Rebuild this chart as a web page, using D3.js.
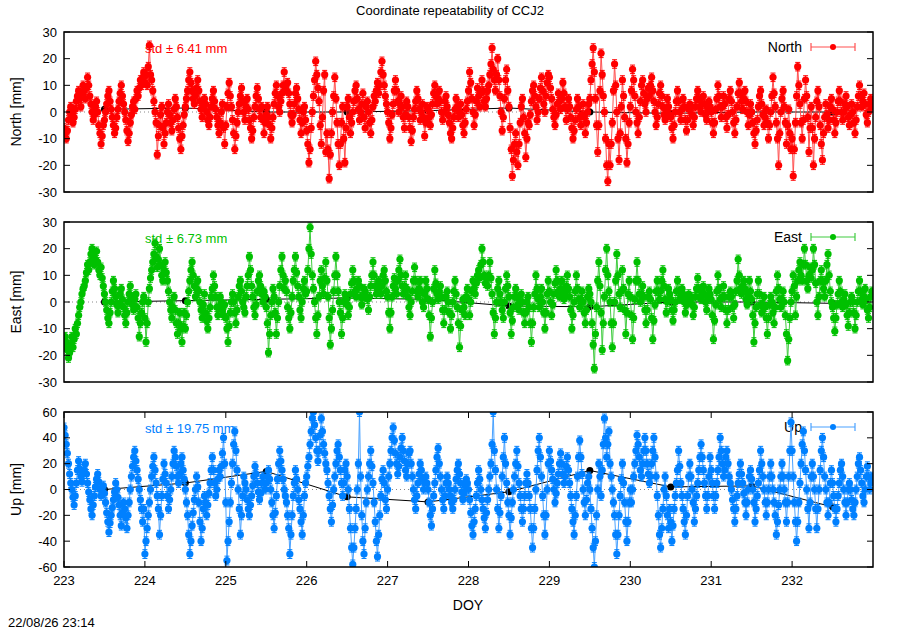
<!DOCTYPE html>
<html>
<head>
<meta charset="utf-8">
<script src="https://d3js.org/d3.v7.min.js"></script>
<style>
body { margin: 0; background: #fff; }
text { font-family: "Liberation Sans", Arial, Helvetica, sans-serif; }
</style>
</head>
<body>
<script>

var startDoy = 223;
var spanDays = 10;

var northVals = [
 -6, -8, -10, -7, -3, 0, 2, -1, -4, -2, 1, 4, 6, 8, 5, 2, 7, 10,
 8, 5, 9, 13, 10, 6, 3, 0, -3, -1, 2, 4, 0, -5, -8, -12, -9, -5,
 -3, 0, 3, 6, 8, 4, 1, -2, -5, -8, -6, -2, 1, 4, 7, 10, 6, 3,
 0, -3, -7, -11, -8, -4, -1, 2, 4, 1, 5, 8, 6, 9, 12, 10, 13, 15,
 11, 14, 10, 17, 25, 14, 12, 8, 4, 0, -4, -16, -9, -5, -1, 2, -6, -12,
 -8, -4, 0, 3, -1, -4, -7, -3, 1, 5, 2, -2, -6, -10, -14, -9, -5, -1,
 2, 5, 8, 12, 15, 11, 8, 5, 3, 6, 9, 12, 8, 4, 1, -2, 2, 5,
 3, 0, -3, -5, -2, 2, 5, 8, 4, 1, -2, -5, -8, -4, 0, 3, -6, -12,
 -5, 2, 7, 11, 6, 2, -3, -8, -14, -9, -4, 0, 3, 6, 9, 4, 0, -3,
 2, 5, 1, -3, -6, -10, -7, -2, 2, 6, 9, 5, 1, -2, 2, -3, -8, -4,
 -1, 2, -2, -5, -10, -6, -2, 3, 7, 10, 6, 2, 0, 4, 7, 10, 15, 9,
 8, 11, 7, 3, -1, -4, -1, 3, 7, 9, 5, 1, -3, -8, -4, 0, 2, -3,
 -7, -12, -19, -14, -6, 0, 6, 12, 19, 14, 9, 4, -5, -12, -2, 8, 14, -15,
 -8, -14, -25, -16, -8, 0, 6, 13, 5, -4, -12, -20, -12, -4, 2, -10, -19, -6,
 2, 5, -2, -8, -4, 0, 4, 8, 10, 5, 1, -3, 0, 3, 7, -2, -6, 2,
 4, 0, -4, -8, -3, 2, 6, 4, 8, 11, 7, 10, 15, 19, 14, 10, 6, 3,
 0, -4, -10, -6, -1, 3, 8, 12, 8, 4, 0, 3, 6, 2, -2, -6, -1, 4,
 2, -2, -6, -11, -7, -2, 1, 4, 8, 5, 1, -3, 0, 3, -2, -9, -4, 2,
 1, -2, -5, -1, 3, 7, 10, 6, 3, 5, 8, 4, 0, -3, 0, 4, 6, 2,
 -1, -4, -8, -10, -6, -2, 1, 5, 2, -2, 0, 3, -1, -5, -8, -4, 1, 4,
 8, 15, 11, 5, 0, -5, -1, 4, 9, 6, 2, 7, 12, 8, 4, 2, 5, 8,
 10, 14, 18, 24, 16, 12, 8, 14, 20, 12, 6, 0, -7, -2, 5, 12, 16, 8,
 2, -6, -14, -24, -18, -12, -8, -15, -20, -12, -4, 2, 5, -2, -8, -17, -10, -4,
 -5, -1, 4, 8, 10, 6, 2, -3, 0, 5, 9, 13, 8, 3, 0, 6, 11, 14,
 13, 9, 5, 1, -2, -5, -1, 3, 7, 4, 1, 5, 11, 7, 2, -3, 1, 5,
 2, -2, -6, -10, -7, -3, 1, 5, 2, -2, -5, -1, 3, -2, -8, -4, 0, 3,
 5, 12, 18, 24, 15, 5, -5, -15, -5, 8, 22, 14, 6, 0, -10, -20, -26, -12,
 -20, -12, -4, 8, 18, 10, 0, -10, -18, -8, 2, 12, 6, -2, -10, -19, -12, -4,
 2, 8, 16, 12, 6, 0, -4, -8, -2, 4, 10, 12, 7, 3, 0, 5, 9, 6,
 10, 13, 8, 4, 0, -5, -2, 3, 7, 10, 6, 2, -1, -3, 1, 5, 2, -1,
 -2, -6, -10, -5, 0, 4, 8, 4, 0, -3, 1, 5, 2, -3, -7, -3, 1, 3,
 2, -1, -5, -2, 2, 5, 8, 5, 2, 0, 3, 6, 3, -1, -3, 1, 4, 2,
 0, -4, -8, -4, 1, 5, 10, 6, 2, -2, 2, 6, 3, -2, -6, -1, 5, 8,
 4, 0, -4, -8, -3, 2, 7, 11, 7, 4, 1, 5, 8, 4, 0, -5, -1, 3,
 0, -4, -8, -12, -7, -3, 2, 6, 8, 3, -1, -5, -2, 1, -4, -10, -5, 0,
 6, 13, 7, 2, -4, -10, -20, -8, 0, 5, 8, 2, -4, -12, -5, 1, -8, -14,
 -10, -24, -14, -4, 6, 17, 10, 3, -4, -10, -3, 5, 12, 6, -2, -15, -6, 2,
 -6, -20, -10, -2, 4, 8, 2, -5, -12, -18, -8, -2, 3, -1, -6, -3, 2, 5,
 1, -3, -8, -4, 0, 4, 8, 4, 0, -3, 0, 3, 6, 2, -2, -5, -1, 3,
 0, -4, -8, -3, 2, 6, 10, 6, 2, 4, 7, 3, -1, -4, 0, 3, 5, 2
];

var eastVals = [
 -16, -13, -15, -18, -21, -19, -16, -13, -17, -14, -10, -12, -8, -5, -2, 0, 3, 5,
 6, 8, 11, 14, 12, 15, 18, 20, 17, 14, 16, 19, 15, 12, 10, 13, 9, 6,
 3, 0, -3, -6, -8, -4, 0, 4, 8, 5, 2, -1, -4, -1, 3, 5, 1, -2,
 -5, -8, -4, 0, 3, 6, 2, -1, -3, 1, 3, -2, -6, -13, -8, -4, 0, 2,
 -6, -15, -8, 0, 5, 9, 12, 15, 18, 22, 17, 13, 16, 20, 14, 10, 8, 12,
 15, 11, 8, 4, 0, -3, -6, -2, 2, -3, -8, -12, -8, -4, -10, -15, -9, -4,
 -10, -5, 0, 4, 8, 12, 15, 10, 6, 2, 5, 8, 4, 0, -3, -6, -1, 3,
 -4, -7, -10, -6, -2, 2, 5, 10, 6, 2, -2, -5, -2, 2, 0, -3, -5, -1,
 -6, -10, -15, -9, -4, 0, 3, 0, -4, -8, -3, 2, 6, 8, 4, 0, -2, -4,
 2, 6, 10, 17, 12, 6, 2, -2, -5, -1, 4, 8, 10, 6, 3, 0, 4, 2,
 -2, -8, -19, -12, -5, 0, 5, 2, -4, -12, -6, 0, 6, 12, 17, 10, 5, 8,
 4, -2, -6, -10, -4, 2, 8, 12, 17, 11, 6, 2, -3, -6, 0, 5, 8, 3,
 4, 12, 20, 28, 18, 10, 5, 0, -6, -12, -5, 2, 8, 12, 6, 3, 9, 15,
 8, 2, -6, -16, -10, -3, 4, 10, 17, 10, 4, 0, -4, -12, -6, 0, 3, 1,
 -1, -5, -2, 3, 7, 12, 8, 4, 2, 5, 8, 6, 2, -1, 2, 5, 4, 2,
 1, -3, 2, 6, 10, 15, 10, 6, 3, 5, 8, 6, 3, 6, 10, 12, 8, 4,
 2, -4, -10, -4, 2, 6, 9, 5, 3, 8, 12, 16, 10, 6, 3, 6, 10, 5,
 2, -2, -5, 0, 4, 8, 13, 8, 4, 2, 5, 8, 4, 0, -2, 3, 8, 5,
 1, -5, -13, -6, 0, 5, 12, 7, 3, 1, 4, 6, 2, -3, -8, -3, 2, 4,
 0, -4, -10, -5, 0, 4, 8, 3, -2, -8, -17, -9, -3, 1, -2, -5, 2, 5,
 1, -5, 0, 4, 8, 5, 3, 7, 10, 12, 9, 14, 20, 15, 10, 7, 9, 6,
 10, 15, 9, 3, -4, -12, -6, 0, 5, 8, 3, 0, -3, -6, 0, 5, 10, 6,
 2, -4, -12, -7, -2, 2, 5, 2, -1, -3, 0, 3, 0, -4, -8, -4, 0, 2,
 -2, -8, -15, -8, -2, 3, 10, 5, 1, -2, 2, 5, 0, -4, -10, -4, 3, 8,
 4, 0, -5, -1, 3, 7, 12, 8, 4, 2, 5, 8, 4, 1, 3, 6, 10, 5,
 2, -3, -10, -5, 0, 4, 10, 5, 1, -2, 1, 4, 0, -4, -8, -3, 2, 5,
 3, 0, -8, -16, -25, -12, -2, 8, 15, 6, -4, -18, -8, 2, 12, 20, 10, 4,
 0, -8, -17, -8, 0, 8, 18, 10, 3, -2, 4, 12, 5, -3, -12, -4, 3, 8,
 2, -5, -14, -6, 1, 8, 15, 8, 3, 0, 3, 6, 2, -3, -8, -3, 2, 4,
 1, -6, -14, -7, -1, 4, 8, 4, 1, 4, 8, 12, 6, 1, -4, 0, 5, 3,
 1, -3, -7, -3, 0, 4, 8, 4, 1, 2, 5, 3, 0, -4, -1, 2, 3, 1,
 2, -1, -5, -2, 2, 5, 9, 5, 2, 1, 4, 6, 3, 0, -3, 1, 5, 3,
 1, -5, -14, -7, -1, 4, 10, 5, 1, -2, 2, 6, 2, -3, -8, -3, 2, 4,
 2, -2, -6, -1, 4, 8, 16, 10, 5, 3, 6, 8, 5, 1, -1, 3, 8, 4,
 1, -5, -15, -8, -2, 3, 8, 3, -1, -4, -1, 2, -2, -6, -12, -6, -1, 2,
 0, -4, -8, -2, 4, 10, 5, 1, -2, 1, 4, 0, -5, -12, -22, -14, -6, 0,
 4, 10, 6, -5, 2, 8, 12, 15, 10, 8, 14, 20, 14, 8, 5, 10, 13, 9,
 12, 20, 14, 7, 0, -5, 2, 8, 12, 8, 5, 2, 8, 14, 18, 10, 4, 0,
 -2, -6, -11, -6, -1, 3, 8, 4, 0, -2, 1, 3, -1, -5, -9, -4, 0, 2,
 0, -4, -10, -5, 0, 4, 8, 4, 1, -1, 2, 5, 1, -3, -6, -2, 2, 4
];

var upVals = [
 48, 42, 35, 28, 20, 12, 5, 0, -6, -12, -5, 5, 15, 22, 16, 10, 6, 12,
 15, 20, 12, 5, -2, -8, -15, -20, -12, -5, 2, 8, 12, 6, 0, -5, -2, 3,
 -3, -10, -18, -25, -33, -26, -20, -14, -8, -2, 5, 0, -6, -12, -20, -28, -18, -10,
 -15, -22, -30, -20, -10, 0, 10, 18, 25, 30, 22, 15, 8, 0, -8, -15, -25, -15,
 -50, -40, -30, -20, -10, 0, 10, 18, 25, 15, 5, -5, -15, -35, -20, -5, 8, 20,
 12, 5, -5, -15, -8, 0, 10, 20, 30, 25, 18, 10, 5, 12, 20, 25, 15, 8,
 0, -10, -20, -35, -50, -40, -28, -18, -8, 0, 10, 2, -10, -25, -40, -30, -15, -5,
 -10, -20, -12, -3, 5, 15, 25, 15, 5, -5, 0, 8, 15, 10, 18, 28, 40, 20,
 -10, -55, -40, -25, -10, 5, 20, 35, 45, 30, 15, 0, -15, -35, -20, -5, 10, 5,
 0, -8, -15, -20, -12, -5, 3, 10, 18, 12, 5, -2, -8, -3, 5, 10, 5, 0,
 5, 10, 15, 8, 0, -10, -20, -30, -18, -5, 8, 20, 30, 22, 15, 8, 0, -5,
 -10, -20, -30, -50, -35, -20, -5, 5, 15, 8, 0, -8, -15, -25, -35, -20, -5, 5,
 10, 18, 25, 35, 45, 55, 60, 50, 40, 30, 22, 30, 42, 55, 45, 35, 28, 20,
 15, 5, -5, -15, -25, -12, 0, 10, 20, 30, 35, 25, 15, 5, -5, 5, 15, 20,
 10, 0, -15, -30, -45, -58, -45, -30, -15, 0, 20, 60, 10, -20, -40, -50, -30, -10,
 0, 10, 20, 30, 18, 5, -10, -25, -40, -52, -35, -20, -5, 8, 15, 5, -8, -15,
 0, 10, 20, 30, 40, 48, 38, 28, 20, 12, 18, 25, 32, 40, 30, 22, 15, 10,
 20, 28, 30, 20, 10, 0, -8, -15, -5, 5, 12, 20, 15, 8, 0, 5, 10, 5,
 0, -10, -20, -28, -15, -5, 5, 15, 25, 32, 20, 10, 0, -8, -15, -5, 5, 10,
 5, 0, -5, -10, -15, -8, 0, 8, 15, 20, 12, 5, -2, -8, -3, 3, 8, 5,
 0, -8, -18, -28, -35, -25, -15, -5, 5, 15, 8, 0, -8, -15, -22, -30, -18, -8,
 0, 10, 20, 35, 60, 30, 15, 0, -15, -30, -18, -5, 10, 25, 40, 20, 5, -10,
 -20, -35, -22, -10, 0, 10, 20, 30, 18, 5, -5, -15, -25, -15, -5, 5, 12, 5,
 -5, -15, -30, -45, -30, -15, 0, 15, 30, 40, 25, 10, -5, -20, -35, -20, 0, 20,
 30, 22, 15, 8, 0, -10, -3, 5, 12, 20, 28, 20, 12, 5, 10, 18, 25, 15,
 5, -5, -15, -25, -35, -20, -5, 10, 25, 38, 25, 12, 0, -10, -20, -8, 5, 10,
 0, -15, -30, -45, -60, -40, -20, 0, 20, 10, -5, 15, 35, 55, 40, 25, 35, 45,
 20, 10, 0, -10, -20, -35, -50, -35, -20, -5, 8, 20, 5, -10, -25, -40, -25, -10,
 0, -10, 0, 10, 20, 30, 42, 35, 25, 15, 10, 20, 30, 40, 30, 20, 12, 5,
 10, 20, 30, 40, 25, 10, -5, -20, -35, -45, -30, -15, 0, 10, -5, -20, -30, -15,
 -25, -40, -28, -15, -5, 5, 15, 30, 18, 5, -5, -15, -25, -35, -20, -5, 10, 20,
 10, 0, -10, -25, -15, -5, 5, 15, 25, 35, 25, 15, 5, -5, -15, -5, 10, 25,
 15, 5, -5, -15, -5, 5, 15, 25, 40, 30, 20, 10, 15, 25, 30, 20, 10, 5,
 0, -8, -15, -25, -15, -5, 5, 12, 20, 12, 5, -3, -10, -20, -10, 0, 10, 15,
 8, 0, -10, -25, -15, -5, 5, 15, 30, 20, 10, 0, -10, -20, -10, 0, 10, 20,
 10, 0, -10, -20, -35, -25, -12, 0, 10, 20, 10, 0, -10, -25, -10, 10, 30, 52,
 30, 10, -10, -25, -40, -25, -10, 5, 20, 35, 45, 30, 15, 0, -15, -30, -10, 10,
 20, 10, 0, -15, -30, -15, 0, 15, 30, 40, 25, 10, 0, -10, -20, -10, 5, 15,
 5, -5, -15, -25, -15, -5, 5, 15, 20, 10, 0, -10, -20, -10, 0, 5, 0, -8,
 -15, -20, -10, 0, 10, 20, 25, 15, 5, -5, -10, 0, 10, 18, 10, 0, 5, 10
];

/* daily solutions (black) */
var dailyDoy = [223.5, 224.5, 225.5, 226.5, 227.5, 228.5, 229.5, 230.5, 231.5, 232.5];
var northDaily = [1, 1.5, 0, 0, 0.5, 1.5, 0, -0.5, 0, 0];
var eastDaily = [0, 0.5, 1, 1.5, 1, -1.5, -1.8, 0, 0, -0.5];
var upDaily = [0, 5, 14, -5.7, -9.6, -1.8, 14.7, 2, 2.8, -13.5];

/* formal errors (mm) */
var northErr = 1.6, eastErr = 1.6, upErr = 3.4;

var xTicks = [223, 224, 225, 226, 227, 228, 229, 230, 231, 232];
var neTicks = [30, 20, 10, 0, -10, -20, -30];
var upTicks = [60, 40, 20, 0, -20, -40, -60];

var width = 900, height = 630;
var left = 64, right = 873;

var svg = d3.select("body").append("svg")
  .attr("width", width)
  .attr("height", height);

var x = d3.scaleLinear().domain([223, 233]).range([left, right]);

var panels = [
  { name: "North", label: "North [mm]", vals: northVals, daily: northDaily, err: northErr,
    std: "6.41", color: "#ff0000", light: "#ff5050", top: 32, bottom: 192, dom: [-30, 30], ticks: neTicks },
  { name: "East", label: "East [mm]", vals: eastVals, daily: eastDaily, err: eastErr,
    std: "6.73", color: "#00c000", light: "#40cc40", top: 222, bottom: 382, dom: [-30, 30], ticks: neTicks },
  { name: "Up", label: "Up [mm]", vals: upVals, daily: upDaily, err: upErr,
    std: "19.75", color: "#0080ff", light: "#4aa2ff", top: 412, bottom: 567, dom: [-60, 60], ticks: upTicks }
];

/* title */
svg.append("text")
  .attr("x", 450).attr("y", 15)
  .attr("text-anchor", "middle")
  .attr("font-size", 13)
  .text("Coordinate repeatability of CCJ2");

panels.forEach(function(p, k) {
  var y = d3.scaleLinear().domain(p.dom).range([p.bottom, p.top]);
  var n = p.vals.length;
  var doyOf = function(i) { return startDoy + i * spanDays / n; };
  var g = svg.append("g");

  g.append("clipPath").attr("id", "clip" + k)
    .append("rect")
    .attr("x", left).attr("y", p.top)
    .attr("width", right - left).attr("height", p.bottom - p.top);

  // legend text sits under the data, as in the original
  var ly = p.top + 15;
  g.append("text")
    .attr("x", 802).attr("y", ly + 5)
    .attr("text-anchor", "end")
    .attr("font-size", 14)
    .text(p.name);

  var plot = g.append("g").attr("clip-path", "url(#clip" + k + ")");

  // zero line
  plot.append("line")
    .attr("x1", left).attr("x2", right)
    .attr("y1", y(0)).attr("y2", y(0))
    .attr("stroke", "#888").attr("stroke-width", 1)
    .attr("stroke-dasharray", "1,3");

  // daily black line
  var dline = d3.line()
    .x(function(d, i) { return x(dailyDoy[i]); })
    .y(function(d) { return y(d); });
  plot.append("path")
    .datum(p.daily)
    .attr("d", dline)
    .attr("fill", "none")
    .attr("stroke", "#000")
    .attr("stroke-width", 1);
  plot.selectAll(".dd").data(p.daily).enter().append("circle")
    .attr("cx", function(d, i) { return x(dailyDoy[i]); })
    .attr("cy", function(d) { return y(d); })
    .attr("r", 3.5)
    .attr("fill", "#000");

  // series line
  var sline = d3.line()
    .x(function(d, i) { return x(doyOf(i)); })
    .y(function(d) { return y(d); });
  plot.append("path")
    .datum(p.vals)
    .attr("d", sline)
    .attr("fill", "none")
    .attr("stroke", p.light)
    .attr("stroke-width", 1);

  // error bars
  var eb = plot.append("g").attr("stroke", p.color).attr("stroke-width", 1);
  p.vals.forEach(function(d, i) {
    var cx = x(doyOf(i)), y1 = y(d + p.err), y2 = y(d - p.err);
    eb.append("line").attr("x1", cx).attr("x2", cx).attr("y1", y1).attr("y2", y2);
    eb.append("line").attr("x1", cx - 2.5).attr("x2", cx + 2.5).attr("y1", y1).attr("y2", y1);
    eb.append("line").attr("x1", cx - 2.5).attr("x2", cx + 2.5).attr("y1", y2).attr("y2", y2);
  });

  // points
  plot.selectAll(".pt").data(p.vals).enter().append("circle")
    .attr("cx", function(d, i) { return x(doyOf(i)); })
    .attr("cy", function(d) { return y(d); })
    .attr("r", 3.6)
    .attr("fill", p.color);

  // y ticks, inward on both sides
  p.ticks.forEach(function(t) {
    g.append("line").attr("x1", left).attr("x2", left + 6)
      .attr("y1", y(t)).attr("y2", y(t)).attr("stroke", "#000");
    g.append("line").attr("x1", right - 6).attr("x2", right)
      .attr("y1", y(t)).attr("y2", y(t)).attr("stroke", "#000");
    g.append("text")
      .attr("x", left - 7).attr("y", y(t) + 4.5)
      .attr("text-anchor", "end")
      .attr("font-size", 13)
      .text(t);
  });

  // x ticks only on bottom panel
  if (k === 2) {
    xTicks.forEach(function(t) {
      g.append("line").attr("x1", x(t)).attr("x2", x(t))
        .attr("y1", p.bottom).attr("y2", p.bottom - 6).attr("stroke", "#000");
      g.append("line").attr("x1", x(t)).attr("x2", x(t))
        .attr("y1", p.top).attr("y2", p.top + 6).attr("stroke", "#000");
      g.append("text")
        .attr("x", x(t)).attr("y", p.bottom + 18)
        .attr("text-anchor", "middle")
        .attr("font-size", 13)
        .text(t);
    });
  }

  // border
  g.append("rect")
    .attr("x", left).attr("y", p.top)
    .attr("width", right - left).attr("height", p.bottom - p.top)
    .attr("fill", "none")
    .attr("stroke", "#000")
    .attr("stroke-width", 1.5);

  // y label
  g.append("text")
    .attr("transform", "translate(21," + ((p.top + p.bottom) / 2) + ") rotate(-90)")
    .attr("text-anchor", "middle")
    .attr("font-size", 14)
    .text(p.label);

  // std text
  g.append("text")
    .attr("x", 145).attr("y", p.top + 21)
    .attr("font-size", 13)
    .attr("fill", p.color)
    .text("std \u00b1 " + p.std + " mm");

  // legend sample
  var lg = g.append("g").attr("stroke", p.light).attr("stroke-width", 1.2);
  lg.append("line").attr("x1", 811).attr("x2", 855).attr("y1", ly).attr("y2", ly);
  lg.append("line").attr("x1", 811).attr("x2", 811).attr("y1", ly - 4).attr("y2", ly + 4);
  lg.append("line").attr("x1", 855).attr("x2", 855).attr("y1", ly - 4).attr("y2", ly + 4);
  g.append("circle").attr("cx", 833).attr("cy", ly).attr("r", 3).attr("fill", p.color);
});

/* x label and timestamp */
svg.append("text")
  .attr("x", 468).attr("y", 610)
  .attr("text-anchor", "middle")
  .attr("font-size", 14)
  .text("DOY");

svg.append("text")
  .attr("x", 8).attr("y", 627)
  .attr("font-size", 13)
  .text("22/08/26 23:14");

</script>
</body>
</html>
